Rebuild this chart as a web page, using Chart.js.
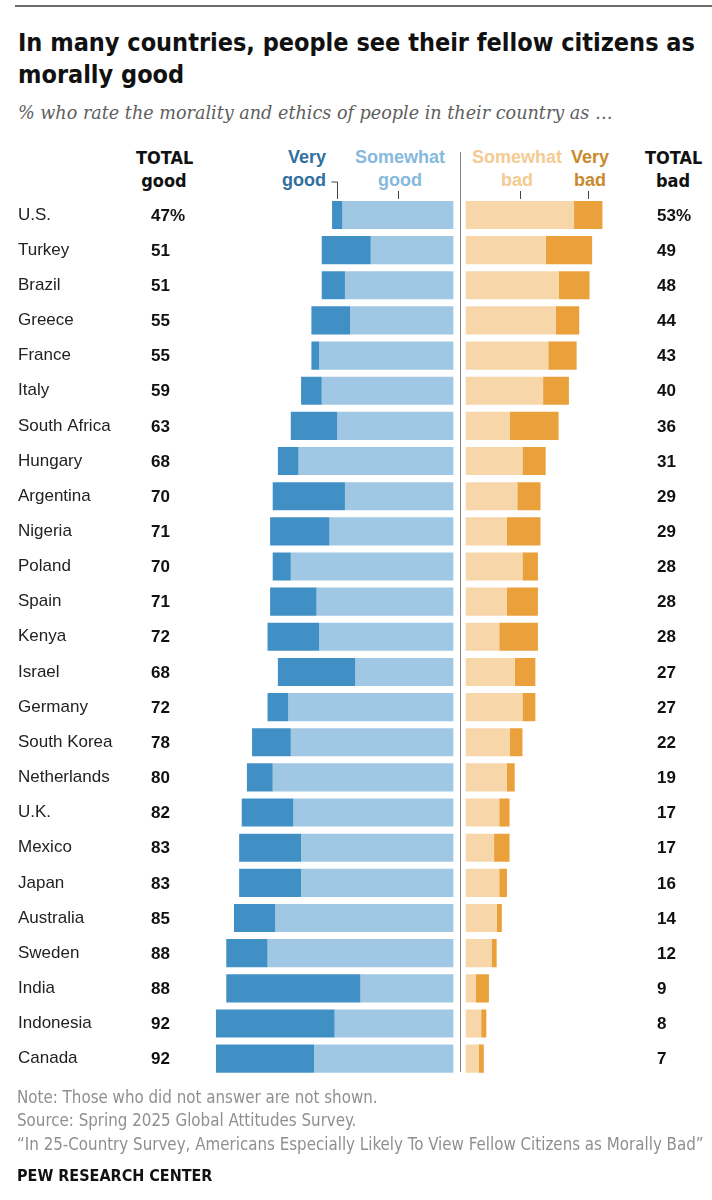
<!DOCTYPE html>
<html lang="en">
<head>
    <meta charset="UTF-8">
    <title>Morality of fellow citizens</title>
    <script src="https://cdn.jsdelivr.net/npm/chart.js"></script>
    <style>
        body {
            margin: 0;
            background: #fff;
            font-family: "Liberation Sans", Arial, sans-serif;
        }
        .page {
            position: relative;
            width: 712px;
            height: 1200px;
            overflow: hidden;
        }
        .topline {
            position: absolute;
            left: 15px; right: 0; top: 5px;
            border-top: 2px solid #6b6b6b;
        }
        .narrow {
            font-family: "DejaVu Sans Condensed", "DejaVu Sans", sans-serif;
        }
        .title {
            position: absolute;
            left: 18px; top: 27px;
            font-size: 25px;
            font-weight: bold;
            line-height: 32px;
            color: #111;
            white-space: nowrap;
        }
        .subtitle {
            position: absolute;
            left: 18px; top: 103px;
            font-family: "DejaVu Serif", serif;
            font-style: italic;
            font-size: 17.6px;
            color: #5e5e5e;
            white-space: nowrap;
        }
        .hdr {
            position: absolute;
            font-size: 18px;
            font-weight: bold;
            line-height: 23px;
        }
        .foot {
            position: absolute;
            left: 17px;
            font-size: 16.8px;
            color: #8f8f8f;
            white-space: nowrap;
        }
        .brand {
            position: absolute;
            left: 17px; top: 1166px;
            font-size: 16px;
            font-weight: bold;
            color: #111;
        }
        canvas { position: absolute; left: 0; top: 0; }
    </style>
</head>
<body>
<div class="page">
    <div class="topline"></div>
    <div class="title narrow">In many countries, people see their fellow citizens as<br>morally good</div>
    <div class="subtitle">% who rate the morality and ethics of people in their country as …</div>

    <div class="hdr narrow" style="left:136px; top:146px; width:56px; text-align:center; color:#111;">TOTAL<br>good</div>
    <div class="hdr" style="left:240px; top:146px; width:86px; text-align:right; color:#2f6f9f;">Very<br>good</div>
    <div class="hdr" style="left:340px; top:146px; width:120px; text-align:center; color:#86b9de;">Somewhat<br>good</div>
    <div class="hdr" style="left:457px; top:146px; width:120px; text-align:center; color:#f4cb92;">Somewhat<br>bad</div>
    <div class="hdr" style="left:560px; top:146px; width:60px; text-align:center; color:#c98a2c;">Very<br>bad</div>
    <div class="hdr narrow" style="left:645px; top:146px; width:56px; text-align:center; color:#111;">TOTAL<br>bad</div>

    <canvas id="chart" width="712" height="1200"></canvas>

    <div class="foot narrow" style="top:1087px;">Note: Those who did not answer are not shown.</div>
    <div class="foot narrow" style="top:1110px;">Source: Spring 2025 Global Attitudes Survey.</div>
    <div class="foot narrow" style="top:1134px;">“In 25-Country Survey, Americans Especially Likely To View Fellow Citizens as Morally Bad”</div>
    <div class="brand narrow">PEW RESEARCH CENTER</div>
</div>

<script>
    // Data
    const countries = ['U.S.', 'Turkey', 'Brazil', 'Greece', 'France', 'Italy', 'South Africa', 'Hungary',
        'Argentina', 'Nigeria', 'Poland', 'Spain', 'Kenya', 'Israel', 'Germany', 'South Korea',
        'Netherlands', 'U.K.', 'Mexico', 'Japan', 'Australia', 'Sweden', 'India', 'Indonesia', 'Canada'];
    const veryGood     = [4, 19, 9, 15, 3, 8, 18, 8, 28, 23, 7, 18, 20, 30, 8, 15, 10, 20, 24, 24, 16, 16, 52, 46, 38];
    const somewhatGood = [43, 32, 42, 40, 52, 51, 45, 60, 42, 48, 63, 53, 52, 38, 64, 63, 70, 62, 59, 59, 69, 72, 36, 46, 54];
    const somewhatBad  = [42, 31, 36, 35, 32, 30, 17, 22, 20, 16, 22, 16, 13, 19, 22, 17, 16, 13, 11, 13, 12, 10, 4, 6, 5];
    const veryBad      = [11, 18, 12, 9, 11, 10, 19, 9, 9, 13, 6, 12, 15, 8, 5, 5, 3, 4, 6, 3, 2, 2, 5, 2, 2];
    const totalGood    = [47, 51, 51, 55, 55, 59, 63, 68, 70, 71, 70, 71, 72, 68, 72, 78, 80, 82, 83, 83, 85, 88, 88, 92, 92];
    const totalBad     = [53, 49, 48, 44, 43, 40, 36, 31, 29, 29, 28, 28, 28, 27, 27, 22, 19, 17, 17, 16, 14, 12, 9, 8, 7];

    // gap (in % units) between the good and bad halves
    const GAP = 4.8;

    const colors = {
        veryGood: '#4190c5',
        somewhatGood: '#a0c7e4',
        somewhatBad: '#f7d7aa',
        veryBad: '#eaa03b'
    };

    // totals, divider and the little header ticks
    const extrasPlugin = {
        id: 'extras',
        afterDatasetsDraw(chart) {
            const ctx = chart.ctx;
            const x = chart.scales.x;
            const y = chart.scales.y;
            const area = chart.chartArea;

            ctx.save();
            // divider
            const mid = Math.round(x.getPixelForValue(GAP / 2)) + 0.5;
            ctx.strokeStyle = '#8a8a8a';
            ctx.lineWidth = 1;
            ctx.beginPath();
            ctx.moveTo(mid, 152);
            ctx.lineTo(mid, area.bottom - 4);
            ctx.stroke();

            // totals
            ctx.fillStyle = '#111';
            ctx.font = 'bold 17px "Liberation Sans", Arial, sans-serif';
            ctx.textBaseline = 'middle';
            ctx.textAlign = 'left';
            countries.forEach((c, i) => {
                const py = y.getPixelForValue(i);
                ctx.fillText(totalGood[i] + (i === 0 ? '%' : ''), 151, py + 1);
                ctx.fillText(totalBad[i] + (i === 0 ? '%' : ''), 657, py + 1);
            });

            // header ticks over the first row's segments
            const top = y.getPixelForValue(0) - 14;
            const vgX = Math.round(x.getPixelForValue(-(somewhatGood[0] + veryGood[0] / 2))) + 0.5;
            const sgX = Math.round(x.getPixelForValue(-somewhatGood[0] / 2)) + 0.5;
            const sbX = Math.round(x.getPixelForValue(GAP + somewhatBad[0] / 2)) + 0.5;
            const vbX = Math.round(x.getPixelForValue(GAP + somewhatBad[0] + veryBad[0] / 2)) + 0.5;
            ctx.strokeStyle = '#444';
            ctx.beginPath();
            ctx.moveTo(vgX - 6, top - 19);
            ctx.lineTo(vgX, top - 19);
            ctx.lineTo(vgX, top - 2);
            [sgX, sbX, vbX].forEach(px => {
                ctx.moveTo(px, top - 10);
                ctx.lineTo(px, top - 2);
            });
            ctx.stroke();
            ctx.restore();
        }
    };

    new Chart(document.getElementById('chart'), {
        type: 'bar',
        data: {
            labels: countries,
            datasets: [
                {
                    label: 'Very good',
                    data: veryGood.map((v, i) => [-(somewhatGood[i] + v), -somewhatGood[i]]),
                    backgroundColor: colors.veryGood
                },
                {
                    label: 'Somewhat good',
                    data: somewhatGood.map(v => [-v, 0]),
                    backgroundColor: colors.somewhatGood
                },
                {
                    label: 'Somewhat bad',
                    data: somewhatBad.map(v => [GAP, GAP + v]),
                    backgroundColor: colors.somewhatBad
                },
                {
                    label: 'Very bad',
                    data: veryBad.map((v, i) => [GAP + somewhatBad[i], GAP + somewhatBad[i] + v]),
                    backgroundColor: colors.veryBad
                }
            ]
        },
        options: {
            indexAxis: 'y',
            responsive: false,
            animation: false,
            devicePixelRatio: 1,
            layout: {
                padding: { left: 18, right: 91.5, top: 197.4, bottom: 123.8 }
            },
            datasets: {
                bar: {
                    grouped: false,
                    barPercentage: 0.8,
                    categoryPercentage: 1,
                    borderSkipped: false
                }
            },
            scales: {
                x: {
                    display: false,
                    min: -100,
                    max: 60 + GAP
                },
                y: {
                    position: 'left',
                    grid: { display: false, drawTicks: false },
                    border: { display: false },
                    afterFit(scale) { scale.width = 177.3; },
                    ticks: {
                        crossAlign: 'far',
                        padding: 0,
                        color: '#222',
                        font: { size: 17, family: '"Liberation Sans", Arial, sans-serif' }
                    }
                }
            },
            plugins: {
                legend: { display: false },
                tooltip: { enabled: false }
            }
        },
        plugins: [extrasPlugin]
    });
</script>
</body>
</html>
